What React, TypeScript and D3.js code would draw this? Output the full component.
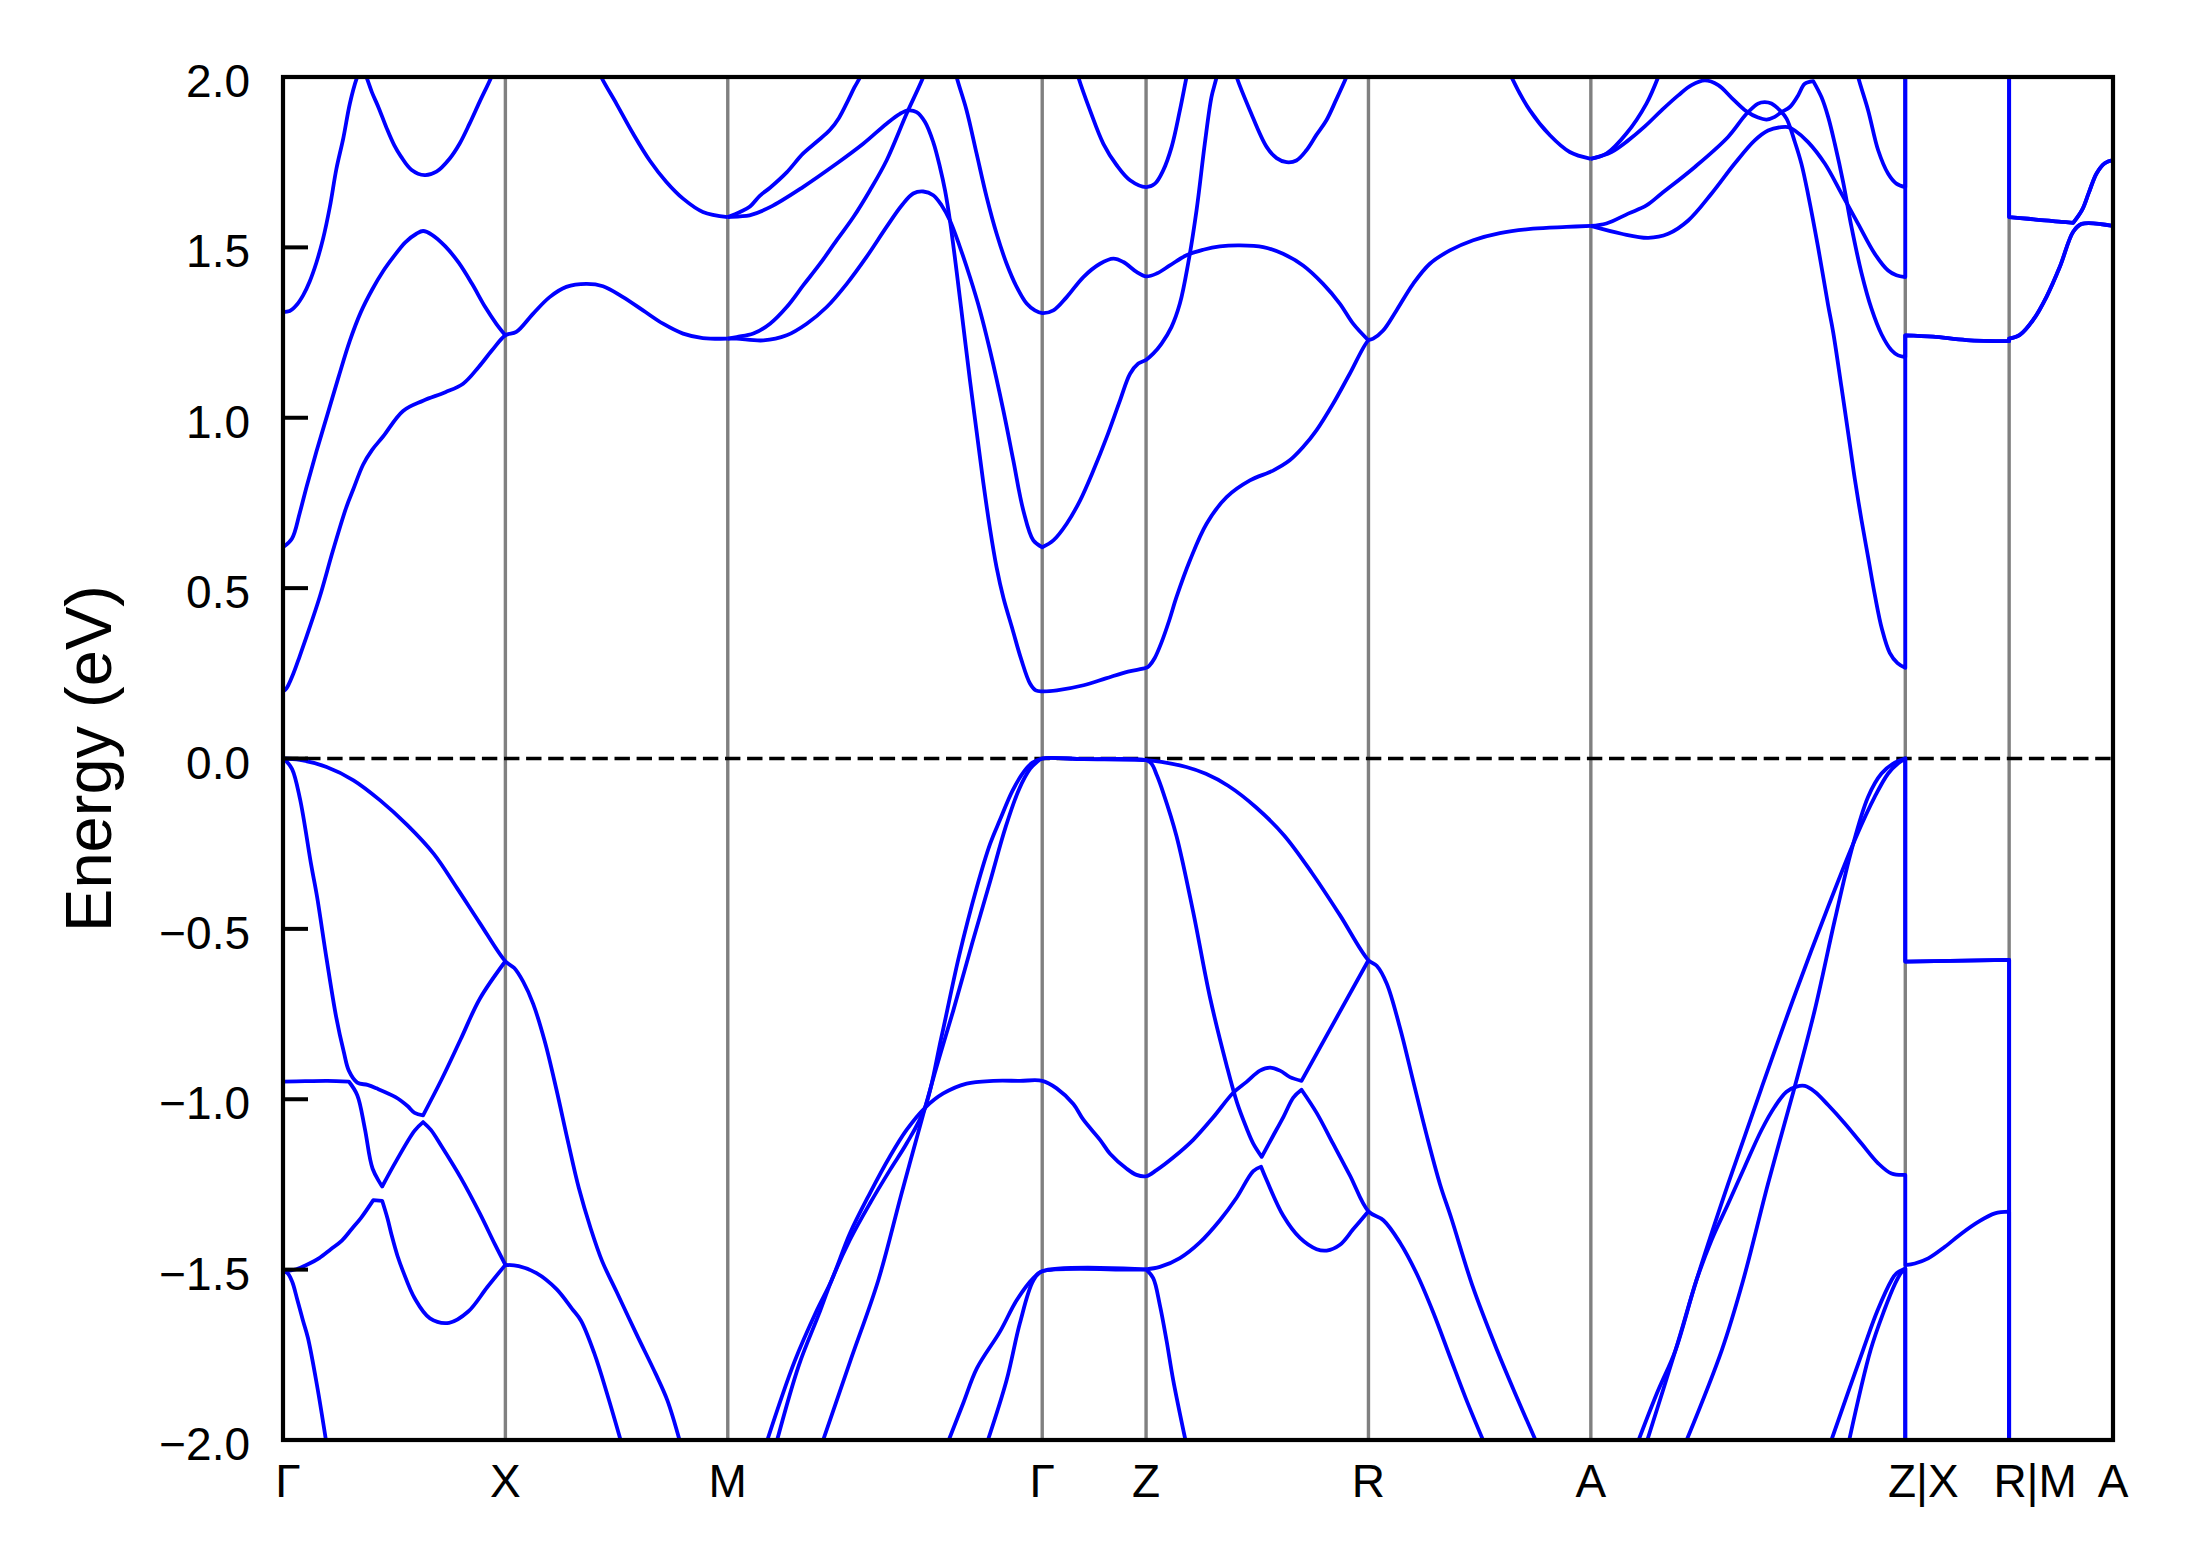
import React from "react";
import * as d3 from "d3";

// ---------- axes data ----------
const kTicks = [0, 1, 2, 3.414, 3.881, 4.881, 5.881, 7.295, 7.762, 8.229];
const kLabels = ["Γ", "X", "M", "Γ", "Z", "R", "A", "Z|X", "R|M", "A"];
const eTicks = [-2, -1.5, -1, -0.5, 0, 0.5, 1, 1.5, 2];
const eTickLabels = ["−2.0", "−1.5", "−1.0", "−0.5", "0.0", "0.5", "1.0", "1.5", "2.0"];
const eRange = [-2, 2];
const fermiLevel = 0;
const yAxisTitle = "Energy (eV)";

// ---------- conduction bands [k, E] ----------
const cbGX_C1 = [[0,1.31],[0.03,1.313],[0.06,1.33],[0.091,1.36],[0.12,1.40],[0.15,1.455],[0.18,1.525],[0.211,1.62],[0.24,1.73],[0.271,1.82],[0.301,1.923],[0.331,1.995],[0.353,2.03],[0.375,2.0],[0.40,1.955],[0.43,1.91],[0.466,1.85],[0.50,1.80],[0.53,1.767],[0.577,1.728],[0.637,1.712],[0.69,1.722],[0.749,1.76],[0.794,1.804],[0.839,1.863],[0.884,1.927],[0.937,2.0],[0.96,2.04]];
const cbGX_C2 = [[0,0.62],[0.04,0.645],[0.075,0.72],[0.107,0.80],[0.15,0.90],[0.20,1.01],[0.25,1.12],[0.30,1.225],[0.35,1.31],[0.40,1.375],[0.45,1.43],[0.50,1.475],[0.55,1.515],[0.60,1.54],[0.63,1.548],[0.67,1.537],[0.73,1.503],[0.79,1.455],[0.85,1.393],[0.91,1.324],[0.96,1.275],[1.0,1.242]];
const cbGX_C3 = [[0,0.197],[0.015,0.205],[0.044,0.245],[0.075,0.30],[0.107,0.36],[0.165,0.474],[0.225,0.611],[0.285,0.738],[0.316,0.79],[0.36,0.862],[0.40,0.905],[0.45,0.945],[0.54,1.02],[0.63,1.05],[0.73,1.075],[0.81,1.10],[0.88,1.149],[0.94,1.198],[1.0,1.242]];
const cbXM_C4 = [[1.0,1.242],[1.049,1.252],[1.124,1.305],[1.199,1.354],[1.274,1.384],[1.364,1.393],[1.439,1.386],[1.529,1.354],[1.619,1.315],[1.709,1.276],[1.799,1.247],[1.888,1.234],[2.0,1.232]];
const cbXM_C5 = [[1.40,2.05],[1.431,2.0],[1.499,1.922],[1.574,1.834],[1.649,1.755],[1.724,1.692],[1.799,1.643],[1.888,1.604],[2.0,1.589]];
const cbMG_up = [[2.0,1.589],[2.055,1.604],[2.10,1.62],[2.145,1.652],[2.19,1.675],[2.265,1.72],[2.338,1.775],[2.40,1.81],[2.46,1.845],[2.50,1.88],[2.54,1.93],[2.57,1.97],[2.595,2.0],[2.615,2.04]];
const cbMG_A = [[2.0,1.589],[2.055,1.591],[2.098,1.594],[2.19,1.618],[2.338,1.677],[2.49,1.746],[2.609,1.804],[2.714,1.863],[2.774,1.892],[2.812,1.902],[2.849,1.897],[2.887,1.868],[2.924,1.809],[2.954,1.736],[2.977,1.667],[2.999,1.579],[3.029,1.43],[3.059,1.27],[3.089,1.11],[3.119,0.96],[3.149,0.81],[3.179,0.675],[3.209,0.56],[3.24,0.47],[3.28,0.38],[3.32,0.29],[3.359,0.22],[3.385,0.20],[3.414,0.197]];
const cbMG_B = [[2.0,1.232],[2.04,1.237],[2.115,1.247],[2.19,1.276],[2.265,1.325],[2.34,1.389],[2.415,1.452],[2.49,1.521],[2.565,1.589],[2.639,1.667],[2.714,1.755],[2.804,1.892],[2.879,2.0],[2.90,2.04]];
const cbMG_C = [[2.0,1.232],[2.04,1.232],[2.16,1.227],[2.265,1.242],[2.355,1.276],[2.445,1.325],[2.535,1.393],[2.624,1.472],[2.714,1.56],[2.782,1.623],[2.834,1.658],[2.879,1.664],[2.924,1.653],[2.962,1.623],[2.999,1.579],[3.044,1.501],[3.089,1.413],[3.134,1.315],[3.179,1.198],[3.239,1.022],[3.284,0.875],[3.329,0.728],[3.374,0.64],[3.414,0.62]];
const cbD = [[3.0,2.08],[3.029,2.0],[3.074,1.902],[3.119,1.775],[3.164,1.648],[3.209,1.54],[3.254,1.452],[3.299,1.384],[3.344,1.335],[3.381,1.315],[3.414,1.307],[3.464,1.315],[3.524,1.354],[3.599,1.413],[3.674,1.452],[3.734,1.467],[3.779,1.457],[3.838,1.428],[3.881,1.415],[3.928,1.423],[3.988,1.447],[4.063,1.477],[4.138,1.493],[4.213,1.503],[4.303,1.506],[4.408,1.501],[4.497,1.481],[4.587,1.447],[4.677,1.393],[4.752,1.335],[4.812,1.276],[4.881,1.227]];
const cbE = [[3.414,0.62],[3.464,0.64],[3.524,0.689],[3.584,0.757],[3.644,0.845],[3.704,0.943],[3.764,1.051],[3.809,1.129],[3.846,1.159],[3.881,1.17],[3.913,1.188],[3.95,1.217],[3.995,1.266],[4.033,1.335],[4.07,1.452],[4.108,1.609],[4.145,1.804],[4.175,1.941],[4.198,2.0],[4.21,2.05]];
const cbF = [[3.55,2.06],[3.576,2.0],[3.629,1.902],[3.689,1.804],[3.749,1.741],[3.809,1.697],[3.881,1.677],[3.921,1.687],[3.958,1.726],[3.996,1.795],[4.033,1.902],[4.063,2.0],[4.08,2.05]];
const cbMin = [[3.414,0.197],[3.48,0.2],[3.6,0.215],[3.7,0.235],[3.8,0.255],[3.881,0.266],[3.895,0.272],[3.92,0.295],[3.95,0.34],[3.985,0.405],[4.018,0.474],[4.078,0.581],[4.153,0.689],[4.243,0.767],[4.348,0.816],[4.452,0.845],[4.527,0.875],[4.587,0.914],[4.647,0.963],[4.722,1.041],[4.797,1.129],[4.881,1.227]];
const cbZR_top = [[4.27,2.04],[4.288,2.0],[4.348,1.902],[4.423,1.795],[4.468,1.762],[4.513,1.75],[4.557,1.755],[4.602,1.785],[4.647,1.83],[4.692,1.873],[4.737,1.935],[4.782,2.0],[4.80,2.03]];
const cbRA_rise = [[4.881,1.227],[4.902,1.232],[4.947,1.256],[5.007,1.315],[5.082,1.393],[5.157,1.452],[5.247,1.491],[5.352,1.521],[5.472,1.542],[5.621,1.555],[5.771,1.56],[5.881,1.563]];
const cbRA_top = [[5.50,2.04],[5.524,2.0],[5.607,1.902],[5.697,1.829],[5.786,1.78],[5.881,1.76]];
const cbAZ_b1 = [[5.881,1.76],[5.951,1.775],[6.041,1.834],[6.131,1.922],[6.184,2.0],[6.20,2.03]];
const cbAZ_P = [[5.881,1.76],[5.974,1.78],[6.049,1.814],[6.124,1.855],[6.199,1.902],[6.274,1.946],[6.334,1.976],[6.394,1.99],[6.454,1.976],[6.514,1.939],[6.581,1.899],[6.633,1.881],[6.671,1.875],[6.708,1.883],[6.738,1.897],[6.776,1.912],[6.813,1.946],[6.843,1.98],[6.881,1.988],[6.918,1.941],[6.948,1.883],[6.978,1.804],[7.016,1.69],[7.053,1.56],[7.098,1.425],[7.143,1.32],[7.188,1.245],[7.233,1.198],[7.263,1.183],[7.295,1.178]];
const cbAZ_Q = [[5.881,1.563],[5.951,1.57],[6.049,1.599],[6.131,1.623],[6.199,1.658],[6.349,1.736],[6.498,1.824],[6.581,1.892],[6.633,1.922],[6.663,1.926],[6.693,1.922],[6.731,1.902],[6.761,1.878],[6.798,1.81],[6.828,1.745],[6.858,1.655],[6.903,1.50],[6.948,1.33],[6.971,1.25],[7.008,1.09],[7.046,0.92],[7.068,0.82],[7.098,0.70],[7.128,0.59],[7.158,0.48],[7.19,0.38],[7.225,0.31],[7.26,0.28],[7.295,0.266]];
const cbAZ_R = [[5.881,1.563],[6.019,1.54],[6.139,1.528],[6.229,1.54],[6.319,1.579],[6.424,1.658],[6.528,1.746],[6.618,1.814],[6.678,1.843],[6.738,1.853],[6.768,1.853],[6.798,1.843],[6.858,1.809],[6.933,1.746],[7.008,1.658],[7.083,1.569],[7.158,1.481],[7.218,1.432],[7.255,1.418],[7.295,1.413]];
const cbAZ_S = [[7.07,2.04],[7.083,2.0],[7.128,1.902],[7.173,1.785],[7.218,1.716],[7.255,1.687],[7.295,1.677]];
const xrAbove = [[7.295,2.3],[7.762,2.3]];
const xrUpper = [[7.295,1.242],[7.42,1.238],[7.57,1.228],[7.762,1.225]];
const maUpper = [[7.762,1.589],[7.847,1.584],[7.922,1.579],[7.997,1.575],[8.05,1.572],[8.09,1.61],[8.12,1.66],[8.155,1.717],[8.192,1.747],[8.229,1.756]];
const maLower = [[7.762,1.232],[7.81,1.243],[7.87,1.287],[7.93,1.355],[7.99,1.443],[8.05,1.546],[8.088,1.569],[8.229,1.563]];

// ---------- valence bands [k, E] ----------
const vbGX_top = [[0,0],[0.076,-0.004],[0.196,-0.025],[0.317,-0.064],[0.437,-0.123],[0.558,-0.195],[0.678,-0.28],[0.781,-0.379],[0.885,-0.483],[1.0,-0.595]];
const vbXM_1 = [[1.0,-0.595],[1.04,-0.615],[1.08,-0.655],[1.125,-0.72],[1.177,-0.83],[1.229,-0.97],[1.28,-1.12],[1.33,-1.26],[1.384,-1.38],[1.435,-1.475],[1.50,-1.565],[1.59,-1.69],[1.676,-1.806],[1.728,-1.883],[1.783,-2.0]];
const vbGX_2 = [[0,0],[0.012,-0.006],[0.041,-0.031],[0.076,-0.117],[0.127,-0.313],[0.153,-0.405],[0.196,-0.588],[0.239,-0.758],[0.274,-0.863],[0.296,-0.916],[0.334,-0.951],[0.38,-0.958],[0.42,-0.968],[0.506,-0.994],[0.56,-1.02],[0.592,-1.04],[0.63,-1.047],[0.713,-0.942],[0.799,-0.824],[0.885,-0.705],[1.0,-0.595]];
const vbGX_3 = [[0,-0.948],[0.1,-0.947],[0.2,-0.946],[0.296,-0.948],[0.334,-0.988],[0.368,-1.086],[0.403,-1.204],[0.446,-1.256],[0.51,-1.18],[0.592,-1.092],[0.63,-1.067],[0.665,-1.09],[0.713,-1.138],[0.799,-1.23],[0.885,-1.335],[0.953,-1.426],[1.0,-1.486]];
const vbGX_4 = [[0,-1.505],[0.06,-1.499],[0.11,-1.485],[0.163,-1.466],[0.215,-1.44],[0.266,-1.414],[0.31,-1.38],[0.351,-1.348],[0.406,-1.296],[0.446,-1.298],[0.47,-1.35],[0.489,-1.4],[0.515,-1.46],[0.54,-1.505],[0.592,-1.584],[0.661,-1.643],[0.747,-1.656],[0.833,-1.623],[0.919,-1.551],[1.0,-1.486]];
const vbXM_2 = [[1.0,-1.486],[1.06,-1.49],[1.14,-1.51],[1.23,-1.557],[1.30,-1.615],[1.34,-1.65],[1.40,-1.746],[1.46,-1.87],[1.518,-2.0]];
const vbGX_5 = [[0,-1.505],[0.02,-1.51],[0.041,-1.535],[0.065,-1.59],[0.09,-1.65],[0.112,-1.70],[0.153,-1.84],[0.193,-2.0]];
const vbMG_L1 = [[2.178,-2.0],[2.30,-1.77],[2.40,-1.62],[2.467,-1.531],[2.549,-1.394],[2.639,-1.276],[2.729,-1.168],[2.804,-1.09],[2.887,-1.025],[2.969,-0.983],[3.074,-0.954],[3.194,-0.946],[3.314,-0.946],[3.414,-0.946]];
const vbGZ_L1 = [[3.414,-0.946],[3.479,-0.968],[3.554,-1.014],[3.599,-1.06],[3.674,-1.119],[3.719,-1.16],[3.794,-1.204],[3.838,-1.222],[3.881,-1.226]];
const vbZR_L1 = [[3.881,-1.226],[3.928,-1.208],[4.003,-1.171],[4.093,-1.119],[4.183,-1.053],[4.273,-0.981],[4.333,-0.949],[4.393,-0.916],[4.438,-0.907],[4.483,-0.916],[4.528,-0.935],[4.58,-0.946],[4.881,-0.592]];
const vbMG_L2 = [[2.222,-2.0],[2.32,-1.78],[2.41,-1.63],[2.467,-1.531],[2.549,-1.413],[2.639,-1.306],[2.729,-1.208],[2.804,-1.13],[2.887,-1.025],[2.96,-0.82],[3.04,-0.58],[3.119,-0.38],[3.18,-0.25],[3.224,-0.18],[3.28,-0.095],[3.33,-0.04],[3.37,-0.012],[3.414,0]];
const vbGZ_top = [[3.414,0],[3.60,-0.002],[3.881,-0.005]];
const vbZR_top = [[3.881,-0.005],[3.95,-0.01],[4.062,-0.025],[4.15,-0.045],[4.25,-0.08],[4.375,-0.143],[4.501,-0.225],[4.627,-0.336],[4.752,-0.459],[4.881,-0.592]];
const vbRA_1 = [[4.881,-0.592],[4.918,-0.608],[4.963,-0.66],[5.023,-0.791],[5.083,-0.949],[5.143,-1.106],[5.203,-1.25],[5.254,-1.35],[5.35,-1.55],[5.459,-1.736],[5.545,-1.87],[5.632,-2.0]];
const vbMG_L3 = [[2.429,-2.0],[2.55,-1.77],[2.677,-1.531],[2.78,-1.28],[2.887,-1.025],[2.95,-0.88],[3.014,-0.74],[3.10,-0.54],[3.18,-0.36],[3.25,-0.20],[3.31,-0.09],[3.36,-0.03],[3.39,-0.01],[3.414,0]];
const vbZR_L3 = [[3.881,-0.005],[3.905,-0.015],[3.93,-0.05],[3.958,-0.10],[4.018,-0.228],[4.093,-0.451],[4.168,-0.70],[4.243,-0.90],[4.29,-1.01],[4.333,-1.085],[4.363,-1.13],[4.401,-1.169],[4.45,-1.11],[4.50,-1.05],[4.543,-0.995],[4.58,-0.972],[4.648,-1.04],[4.723,-1.132],[4.798,-1.224],[4.881,-1.329]];
const vbRA_2 = [[4.881,-1.329],[4.948,-1.355],[5.023,-1.421],[5.098,-1.512],[5.172,-1.625],[5.25,-1.76],[5.32,-1.88],[5.396,-2.0]];
const vbMG_LG1 = [[2.994,-2.0],[3.06,-1.89],[3.12,-1.79],[3.224,-1.682],[3.299,-1.59],[3.374,-1.525],[3.414,-1.505]];
const vbGZ_bot = [[3.414,-1.505],[3.881,-1.499]];
const vbZR_LG1 = [[3.881,-1.499],[3.943,-1.492],[4.033,-1.466],[4.123,-1.42],[4.213,-1.355],[4.288,-1.289],[4.363,-1.211],[4.398,-1.198],[4.423,-1.237],[4.498,-1.342],[4.573,-1.407],[4.648,-1.44],[4.693,-1.444],[4.753,-1.427],[4.813,-1.381],[4.881,-1.329]];
const vbMG_LG2 = [[3.17,-2.0],[3.254,-1.824],[3.314,-1.656],[3.374,-1.532],[3.414,-1.505]];
const vbZR_LG2 = [[3.881,-1.499],[3.913,-1.525],[3.943,-1.604],[3.973,-1.708],[4.003,-1.824],[4.058,-2.0]];
const vbAZ_W = [[6.096,-2.0],[6.18,-1.86],[6.262,-1.736],[6.356,-1.531],[6.424,-1.413],[6.499,-1.306],[6.573,-1.198],[6.648,-1.091],[6.708,-1.022],[6.761,-0.978],[6.806,-0.963],[6.843,-0.961],[6.888,-0.978],[6.948,-1.017],[7.023,-1.071],[7.098,-1.13],[7.173,-1.188],[7.233,-1.218],[7.295,-1.222]];
const vbAZ_V1 = [[6.135,-2.0],[6.262,-1.736],[6.356,-1.531],[6.499,-1.247],[6.648,-0.968],[6.798,-0.694],[6.948,-0.435],[7.068,-0.239],[7.158,-0.112],[7.218,-0.044],[7.263,-0.014],[7.295,0]];
const vbAZ_V2 = [[6.312,-2.0],[6.47,-1.736],[6.566,-1.531],[6.678,-1.247],[6.798,-0.963],[6.888,-0.738],[6.978,-0.474],[7.053,-0.269],[7.128,-0.112],[7.188,-0.044],[7.248,-0.012],[7.295,0]];
const vbAZ_U1 = [[6.963,-2.0],[7.105,-1.736],[7.17,-1.62],[7.233,-1.531],[7.255,-1.511],[7.295,-1.497]];
const vbAZ_U2 = [[7.043,-2.0],[7.139,-1.736],[7.20,-1.62],[7.25,-1.54],[7.275,-1.51],[7.295,-1.497]];
const xrMid = [[7.295,-0.596],[7.762,-0.591]];
const xrLower = [[7.295,-1.487],[7.338,-1.482],[7.398,-1.467],[7.473,-1.433],[7.548,-1.394],[7.623,-1.36],[7.698,-1.335],[7.762,-1.33]];
const belowAtX = [[7.295,-2.3]];
const belowAtM = [[7.762,-2.3]];

// band index order (continuous lines, as plotted)
const bands = [
  cbGX_C1, cbGX_C2, [...cbGX_C3, ...cbXM_C4], cbXM_C5,
  cbMG_up, [...cbMG_A, ...cbMin, ...cbRA_rise], cbMG_B, [...cbMG_C, ...cbE],
  cbD, cbF, cbZR_top, cbRA_top, cbAZ_b1,
  [...cbAZ_P, ...xrUpper, ...maLower],
  [...cbAZ_Q, ...xrUpper, ...maLower],
  [...cbAZ_R, ...xrAbove, ...maUpper],
  [...cbAZ_S, ...xrAbove, ...maUpper],
  [...vbGX_top, ...vbXM_1], vbGX_2, vbGX_3, [...vbGX_4, ...vbXM_2], vbGX_5,
  [...vbMG_L1, ...vbGZ_L1, ...vbZR_L1],
  [...vbMG_L2, ...vbGZ_top, ...vbZR_top, ...vbRA_1],
  [...vbMG_L3, ...vbGZ_top, ...vbZR_L3, ...vbRA_2],
  [...vbMG_LG1, ...vbGZ_bot, ...vbZR_LG1],
  [...vbMG_LG2, ...vbGZ_bot, ...vbZR_LG2],
  [...vbAZ_W, ...xrLower, ...belowAtM],
  [...vbAZ_V1, ...xrMid, ...belowAtM],
  [...vbAZ_V2, ...xrMid, ...belowAtM],
  [...vbAZ_U1, ...belowAtX],
  [...vbAZ_U2, ...belowAtX],
];

// ---------- layout / style ----------
const W = 2189;
const H = 1567;
const plot = { left: 283, right: 2113, top: 77, bottom: 1440 };
const FONT = "'Liberation Sans', Arial, Helvetica, sans-serif";
const labelShift: Record<number, number> = { 0: 5, 7: 18, 8: 26 };
const KINK_DEG = 50;

export default function App() {
  React.useEffect(() => {
    document.body.style.margin = "0";
  }, []);

  const x = d3.scaleLinear().domain([kTicks[0], kTicks[kTicks.length - 1]]).range([plot.left, plot.right]);
  const y = d3.scaleLinear().domain(eRange).range([plot.bottom, plot.top]);
  const smooth = d3.line<number[]>().curve(d3.curveCatmullRom.alpha(0.5));

  // smooth along a band, but keep sharp corners (band crossings / jumps) sharp
  const bandPath = (pts: number[][]) => {
    const q: number[][] = [];
    for (const d of pts) {
      const p = [x(d[0]), y(d[1])];
      const l = q[q.length - 1];
      if (!l || Math.hypot(p[0] - l[0], p[1] - l[1]) > 0.01) q.push(p);
    }
    const pieces: number[][][] = [];
    let cur: number[][] = [q[0]];
    for (let i = 1; i < q.length; i++) {
      cur.push(q[i]);
      if (i < q.length - 1) {
        const a1 = Math.atan2(q[i][1] - q[i - 1][1], q[i][0] - q[i - 1][0]);
        const a2 = Math.atan2(q[i + 1][1] - q[i][1], q[i + 1][0] - q[i][0]);
        let dd = Math.abs(a2 - a1);
        if (dd > Math.PI) dd = 2 * Math.PI - dd;
        if (dd > (KINK_DEG * Math.PI) / 180) {
          pieces.push(cur);
          cur = [q[i]];
        }
      }
    }
    pieces.push(cur);
    return pieces
      .map((pc, j) => {
        const s = smooth(pc) || "";
        return j === 0 ? s : s.replace(/^M/, "L");
      })
      .join("");
  };

  return (
    <svg width={W} height={H} viewBox={`0 0 ${W} ${H}`} style={{ display: "block", background: "#fff" }}>
      <defs>
        <clipPath id="plotClip">
          <rect x={plot.left} y={plot.top} width={plot.right - plot.left} height={plot.bottom - plot.top} />
        </clipPath>
      </defs>
      <rect x={0} y={0} width={W} height={H} fill="#fff" />
      {kTicks.slice(1, -1).map((k, i) => (
        <line key={"v" + i} x1={x(k)} x2={x(k)} y1={plot.top} y2={plot.bottom} stroke="#808080" strokeWidth={3.4} />
      ))}
      <line
        x1={plot.left}
        x2={plot.right}
        y1={y(fermiLevel)}
        y2={y(fermiLevel)}
        stroke="#000"
        strokeWidth={3.6}
        strokeDasharray="15.4 6.7"
      />
      <g clipPath="url(#plotClip)">
        {bands.map((b, i) => (
          <path
            key={"b" + i}
            d={bandPath(b as number[][])}
            fill="none"
            stroke="#0000ff"
            strokeWidth={3.8}
            strokeLinejoin="round"
            strokeLinecap="butt"
          />
        ))}
      </g>
      <rect
        x={plot.left}
        y={plot.top}
        width={plot.right - plot.left}
        height={plot.bottom - plot.top}
        fill="none"
        stroke="#000"
        strokeWidth={4.2}
      />
      {eTicks.map((e, i) => (
        <g key={"yt" + i}>
          <line x1={plot.left} x2={plot.left + 25} y1={y(e)} y2={y(e)} stroke="#000" strokeWidth={4} />
          <text x={plot.left - 33} y={y(e) + 20} textAnchor="end" fontFamily={FONT} fontSize={46} fill="#000">
            {eTickLabels[i]}
          </text>
        </g>
      ))}
      {kTicks.map((k, i) => (
        <text
          key={"xl" + i}
          x={x(k) + (labelShift[i] || 0)}
          y={plot.bottom + 57}
          textAnchor="middle"
          fontFamily={FONT}
          fontSize={46}
          fill="#000"
        >
          {kLabels[i]}
        </text>
      ))}
      <text
        transform={`translate(111, ${(plot.top + plot.bottom) / 2}) rotate(-90)`}
        textAnchor="middle"
        fontFamily={FONT}
        fontSize={65}
        fill="#000"
      >
        {yAxisTitle}
      </text>
    </svg>
  );
}
